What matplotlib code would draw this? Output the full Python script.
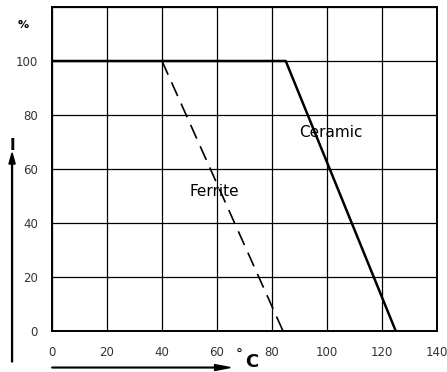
import matplotlib
matplotlib.use("Agg")
import matplotlib.pyplot as plt

# Données
ceramic_t = [0, 85, 125]
ceramic_i = [100, 100, 0]
ferrite_t = [40, 84]
ferrite_i = [100, 0]
x_ticks = [0, 20, 40, 60, 80, 100, 120, 140]
y_ticks = [0, 20, 40, 60, 80, 100]

fig = plt.figure(figsize=(4.47, 3.72), dpi=100)
ax = fig.add_axes([0.1163, 0.1102, 0.8613, 0.871])

ax.set_xlim(0, 140)
ax.set_ylim(0, 120)
ax.set_xticks(x_ticks)
ax.set_yticks(y_ticks + [120])
ax.set_yticklabels([str(v) for v in y_ticks] + [""])
ax.grid(True, color="black", linewidth=0.9)
ax.tick_params(axis="x", length=0, labelsize=8.5, colors="#333333", pad=11)
ax.tick_params(axis="y", length=0, labelsize=8.5, colors="#333333", pad=10)
for s in ax.spines.values():
    s.set_linewidth(1.4)

ax.plot(ceramic_t, ceramic_i, color="black", linewidth=1.8, solid_capstyle="butt")
ax.plot(ferrite_t, ferrite_i, color="black", linewidth=1.2, linestyle=(0, (9, 5)))

ax.text(50, 50, "Ferrite", fontsize=11)
ax.text(90, 72, "Ceramic", fontsize=11)

# Étiquettes des axes façon fiche technique
fig.text(0.052, 0.932, "%", fontsize=8, fontweight="bold", ha="center", va="center")
fig.text(0.027, 0.608, "I", fontsize=11, fontweight="bold", ha="center", va="center")
fig.patches.append(matplotlib.patches.FancyArrow(
    0.027, 0.027, 0, 0.562, width=0.002, head_width=0.014, head_length=0.03,
    color="black", transform=fig.transFigure, length_includes_head=True))
fig.patches.append(matplotlib.patches.FancyArrow(
    0.116, 0.012, 0.399, 0, width=0.002, head_width=0.016, head_length=0.035,
    color="black", transform=fig.transFigure, length_includes_head=True))
fig.text(0.528, 0.045, "°", fontsize=10, ha="left", va="center")
fig.text(0.548, 0.028, "C", fontsize=13, fontweight="bold", ha="left", va="center")

fig.savefig("out.png", dpi=100)
